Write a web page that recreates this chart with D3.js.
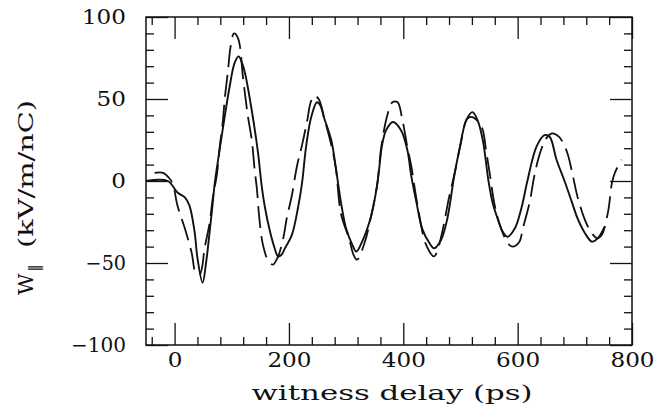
<!DOCTYPE html>
<html><head><meta charset="utf-8">
<script src="https://cdn.jsdelivr.net/npm/d3@7"></script>
<style>
html,body{margin:0;padding:0;background:#fff;}
svg{display:block;}
text{font-family:"DejaVu Serif","Liberation Serif",serif;fill:#111;}
</style></head><body>
<svg id="c" width="656" height="420"></svg>
<script>
// ---- data ----
const xDomain = [-50, 800];
const yDomain = [-100, 100];
const xMajorTicks = [0, 200, 400, 600, 800];
const xMinorTicks = [-40, 40, 80, 120, 160, 240, 280, 320, 360, 440, 480, 520, 560, 640, 680, 720, 760];
const yMajorTicks = [-100, -50, 0, 50, 100];
const yMinorTicks = [-90,-80,-70,-60,-40,-30,-20,-10,10,20,30,40,60,70,80,90];
const xLabel = "witness delay (ps)";
const yLabelMain = "W";
const yLabelSub = "\u2016";
const yLabelUnit = "(kV/m/nC)";

// measured (solid)
const solidX = [-50,-12,5,18,26,35,40,49,55,61,66,70,77,84,96,105,112,118,123,135,146,152,158,167,175,181,187,193,205,216,223,230,239,249,255,261,274,282,291,300,311,318,328,344,354,358,363,370,382,396,407,414,423,433,446,454,466,477,489,498,510,521,530,539,549,556,565,574,582,595,607,617,633,647,656,668,682,695,705,718,730,740,752];
const solidY = [0,0,-7,-10,-15,-31,-47,-62,-50,-32,-16,-2,15,31,57,72,76,72,66,43,17,-2,-16,-31,-41,-46,-45,-41,-33,-16,-1,21,39,48,46,39,25,8,-13,-29,-39,-43,-37,-21,-3,8,22,31,36,31,19,3,-13,-29,-38,-41,-36,-23,3,19,37,42,37,25,0,-13,-23,-31,-34,-29,-16,0,21,28,27,13,0,-13,-23,-32,-37,-35,-28];

// simulation (dashed)
const dashX = [-35,-20,-10,-3,5,18,30,37,44,53,61,67,74,79,84,88,93,98,104,111,120,128,135,140,144,148,154,163,172,181,190,196,205,214,223,232,238,244,252,262,274,282,291,305,313,319,332,344,354,362,372,381,390,398,407,414,425,440,454,460,470,480,490,500,512,521,537,545,551,560,570,583,591,603,609,621,628,635,642,650,660,672,686,696,705,718,730,740,747,758,765,770,782];
const dashY = [5,5,2,-2,-15,-29,-44,-56,-57,-40,-26,-10,4,21,35,51,66,82,90,87,62,40,25,7,-5,-22,-38,-48,-51,-46,-35,-23,-9,9,22,37,48,52,50,38,22,8,-20,-35,-45,-48,-38,-21,-3,22,40,48,48,38,21,9,-15,-39,-46,-42,-28,-10,5,22,38,39,33,18,5,-15,-28,-38,-40,-37,-29,-13,1,12,20,26,29,27,18,4,-10,-24,-32,-35,-33,-19,-1,5,13];

// ---- layout ----
const L = 146, R = 632, T = 17, B = 345;
const svg = d3.select("#c");
const x = d3.scaleLinear().domain(xDomain).range([L, R]);
const y = d3.scaleLinear().domain(yDomain).range([B, T]);

const line = d3.line().x(d => x(d[0])).y(d => y(d[1])).curve(d3.curveCatmullRom.alpha(0.5));
const solid = solidX.map((v, i) => [v, solidY[i]]);
const dashed = dashX.map((v, i) => [v, dashY[i]]);

const g = svg.append("g");
g.append("path").datum(dashed).attr("d", line)
  .attr("fill", "none").attr("stroke", "#111").attr("stroke-width", 1.8)
  .attr("stroke-dasharray", "22,8");
g.append("path").datum(solid).attr("d", line)
  .attr("fill", "none").attr("stroke", "#111").attr("stroke-width", 1.9);

// ---- axes (inward ticks on all four sides) ----
function tickAxis(axisFn, scale, vals, size, transform) {
  svg.append("g").attr("transform", transform)
    .call(axisFn(scale).tickValues(vals).tickSize(size).tickFormat(""))
    .call(s => s.select(".domain").remove())
    .call(s => s.selectAll("line").attr("stroke", "#111").attr("stroke-width", 1.3));
}
tickAxis(d3.axisBottom, x, xMajorTicks, -22, `translate(0,${B})`);
tickAxis(d3.axisBottom, x, xMinorTicks, -8, `translate(0,${B})`);
tickAxis(d3.axisTop, x, xMajorTicks, -22, `translate(0,${T})`);
tickAxis(d3.axisTop, x, xMinorTicks, -8, `translate(0,${T})`);
tickAxis(d3.axisLeft, y, yMajorTicks, -22, `translate(${L},0)`);
tickAxis(d3.axisLeft, y, yMinorTicks, -8, `translate(${L},0)`);
tickAxis(d3.axisRight, y, yMajorTicks, -22, `translate(${R},0)`);
tickAxis(d3.axisRight, y, yMinorTicks, -8, `translate(${R},0)`);

svg.append("rect").attr("x", L).attr("y", T).attr("width", R - L).attr("height", B - T)
  .attr("fill", "none").attr("stroke", "#111").attr("stroke-width", 1.5);

// tick labels (wide typewriter-like glyphs)
const fmt = d => (d < 0 ? "\u2212" + Math.abs(d) : "" + d);
const labLen = d => String(Math.abs(d)).length * 14.7 + (d < 0 ? 11 : 0);
svg.append("g").attr("transform", `translate(0,${B})`)
  .call(d3.axisBottom(x).tickValues(xMajorTicks).tickSize(0).tickPadding(8).tickFormat(fmt))
  .call(s => s.select(".domain").remove())
  .call(s => s.selectAll("text").attr("font-size", 20).attr("font-family", "DejaVu Serif")
    .attr("textLength", d => labLen(d)).attr("lengthAdjust", "spacingAndGlyphs").attr("fill", "#111"));
svg.append("g").attr("transform", `translate(${L},0)`)
  .call(d3.axisLeft(y).tickValues(yMajorTicks).tickSize(0).tickPadding(20).tickFormat(fmt))
  .call(s => s.select(".domain").remove())
  .call(s => s.selectAll("text").attr("font-size", 20).attr("font-family", "DejaVu Serif")
    .attr("textLength", d => labLen(d)).attr("lengthAdjust", "spacingAndGlyphs").attr("fill", "#111"));

// axis titles
svg.append("text").attr("x", 392).attr("y", 400)
  .attr("text-anchor", "middle").attr("font-size", 20)
  .attr("textLength", 281).attr("lengthAdjust", "spacingAndGlyphs").text(xLabel);
const yl = svg.append("text").attr("transform", "translate(33,295) rotate(-90)")
  .attr("text-anchor", "start").attr("font-size", 21);
yl.append("tspan").text(yLabelMain);
yl.append("tspan").attr("font-size", 14).attr("dx", 2).attr("dy", 6).text(yLabelSub);
svg.append("text").attr("transform", "translate(33,248) rotate(-90)")
  .attr("text-anchor", "start").attr("font-size", 20)
  .attr("textLength", 148).attr("lengthAdjust", "spacingAndGlyphs").text(yLabelUnit);
</script>
</body></html>
